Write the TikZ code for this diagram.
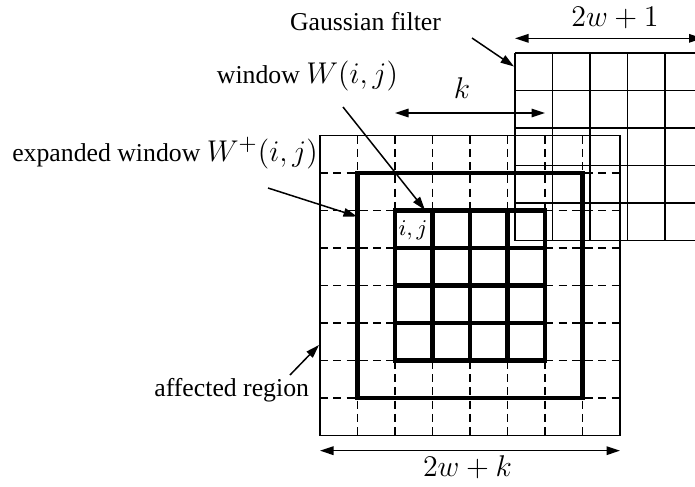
\documentclass[tikz,border=0pt]{standalone}
\usepackage{fontspec}
\setmainfont{Liberation Serif}
\usetikzlibrary{arrows.meta}
\begin{document}
\begin{tikzpicture}[x=0.4pt,y=-0.4pt,
  thinline/.style={line width=0.6pt},
  thickline/.style={line width=1.9pt},
  dashline/.style={line width=0.6pt, dash pattern=on 3.2pt off 2.1pt},
  arr/.style={line width=0.6pt, -{Triangle[length=5.4pt,width=3.4pt]}},
  darr/.style={line width=0.6pt, {Triangle[length=5.4pt,width=3.4pt]}-{Triangle[length=5.4pt,width=3.4pt]}},
  lbl/.style={inner sep=0pt, anchor=base, font=\fontsize{10.3}{12}\selectfont},
  mlbl/.style={inner sep=0pt, anchor=base, font=\fontsize{12.8}{14}\selectfont},
]
\useasboundingbox (0,0) rectangle (695,487);
\clip (0,0) rectangle (695,487);

% dashed grid of the affected region
\foreach \i in {1,...,7} {
  \draw[dashline] ({320+37.5*\i},135.5) -- ({320+37.5*\i},435.5);
  \draw[dashline] (320,{135.5+37.5*\i}) -- (620,{135.5+37.5*\i});
}
% affected region
\draw[thinline] (320,135.5) rectangle (620,435.5);
% expanded window
\draw[thickline] (357.5,173) rectangle (582.5,398);
% window W(i,j)
\draw[thickline] (395,210.5) rectangle (545,360.5);
\foreach \i in {1,2,3} {
  \draw[thickline] ({395+37.5*\i},210.5) -- ({395+37.5*\i},360.5);
  \draw[thickline] (395,{210.5+37.5*\i}) -- (545,{210.5+37.5*\i});
}
% Gaussian filter
\foreach \i in {0,...,5} {
  \draw[thinline] ({515+37.5*\i},53) -- ({515+37.5*\i},240.5);
  \draw[thinline] (515,{53+37.5*\i}) -- (702.5,{53+37.5*\i});
}

% labels
\node[lbl] (gf) at (365.5,30.5) {Gaussian filter};
\node[lbl] (win) at (307.5,83) {window {\fontsize{12.3}{14}\selectfont$W(i,j)$}};
\node[mlbl] (k) at (462,98) {$k$};
\node[mlbl] (w1) at (615,26.5) {$2w+1$};
\node[lbl] (ew) at (165,161) {expanded window {\fontsize{12.3}{14}\selectfont$W^+(i,j)$}};
\node[lbl] (ar) at (231.7,396) {affected region};
\node[mlbl] (wk) at (467.5,476) {$2w+k$};
\node[inner sep=0pt, font=\fontsize{9.2}{10}\selectfont] (ij) at (413,230) {$i,j$};

% arrow end points
\coordinate (gfS) at (472,38);    \coordinate (gfE) at (514,66.5);
\coordinate (wS) at (343,107);    \coordinate (wE) at (425,210);
\coordinate (ewS) at (268,188);   \coordinate (ewE) at (357,216.5);
\coordinate (arS) at (290,375);   \coordinate (arE) at (319,345);
\coordinate (kL) at (395,113);    \coordinate (kR) at (545,113);
\coordinate (w1L) at (515,38.3);  \coordinate (w1R) at (702.5,38.3);
\coordinate (wkL) at (320,450.7); \coordinate (wkR) at (620,450.7);

\draw[arr] (gfS) -- (gfE);
\draw[arr] (wS) -- (wE);
\draw[arr] (ewS) -- (ewE);
\draw[arr] (arS) -- (arE);
\draw[darr] (kL) -- (kR);
\draw[darr] (w1L) -- (w1R);
\draw[darr] (wkL) -- (wkR);
\end{tikzpicture}
\end{document}
